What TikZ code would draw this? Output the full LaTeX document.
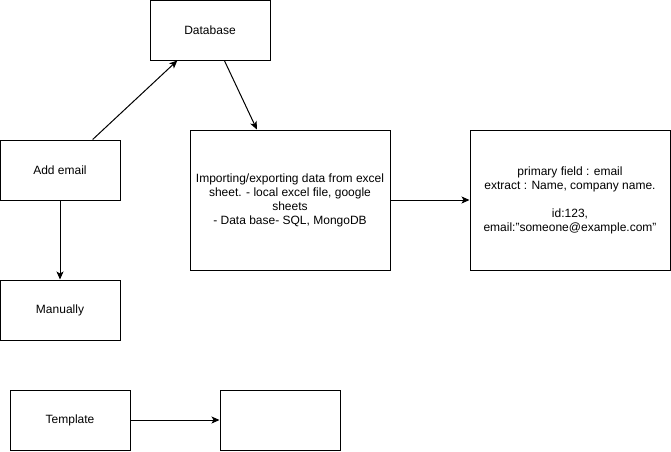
\documentclass[tikz,border=0pt]{standalone}
\usepackage{fontspec}
\setmainfont{Liberation Sans}
\usetikzlibrary{arrows.meta}
\begin{document}
\begin{tikzpicture}[x=1pt, y=-1pt, >={Stealth[length=8pt, width=7pt, inset=2pt]},
    box/.style={draw, line width=1pt, minimum width=120pt, minimum height=60pt,
        align=center, font=\fontsize{12}{14}\selectfont, inner sep=0pt},
    widebox/.style={box, minimum width=200pt, minimum height=140pt},
    link/.style={->, line width=1pt}]
    % --- Khung ---
    \useasboundingbox (0,0) rectangle (671,451);

    % --- Các hộp ---
    \node[box] (database) at (210,30) {Database};
    \node[box] (addemail) at (60,170) {Add email};
    \node[box] (manually) at (60,310) {Manually};
    \node[widebox] (importing) at (290,200)
        {Importing/exporting data from excel\\ sheet. - local excel file, google\\ sheets\\ - Data base- SQL, MongoDB};
    \node[widebox] (fields) at (570,200)
        {primary field : email\\ extract : Name, company name.\\[14pt] id:123,\\ email:"someone@example.com"};
    \node[box] (template) at (70,420) {Template};
    \node[box] (blank) at (280,420) {};

    % --- Mũi tên ---
    \draw[link] (addemail) -- (database);
    \draw[link] (database) -- (importing);
    \draw[link] (importing) -- (fields);
    \draw[link] (addemail) -- (manually);
    \draw[link] (template) -- (blank);
\end{tikzpicture}
\end{document}
